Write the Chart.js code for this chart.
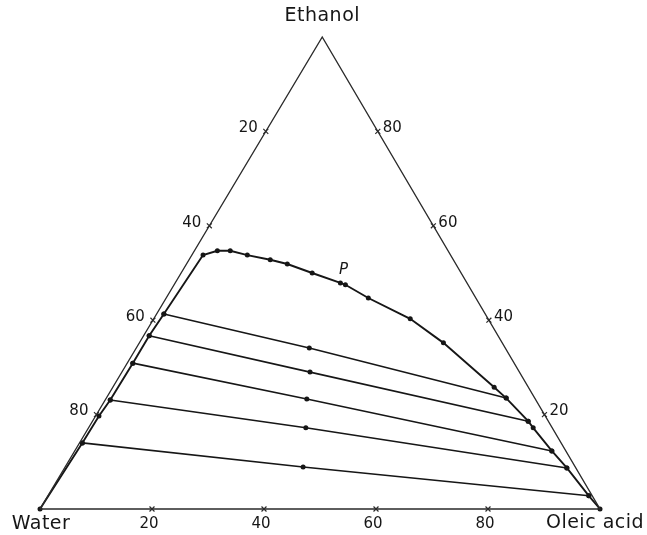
<!DOCTYPE html>
<html>
<head>
<meta charset="utf-8">
<script src="https://cdn.jsdelivr.net/npm/chart.js@4"></script>
<style>
  body { margin: 0; background: #fff; }
  canvas { display: block; }
</style>
</head>
<body>
<canvas id="ternary" width="647" height="535"></canvas>
<script>
// ternary data, all in wt%: ethanol (top), oleic acid (right), water = rest
const binodalEthanol = [0, 14.0, 19.7, 23.1, 30.9, 36.7, 41.3, 53.8, 54.7, 54.7, 53.8, 52.8, 51.9, 50.0, 47.9, 47.5, 44.7, 40.3, 35.2, 25.8, 23.5, 18.6, 17.2, 12.3, 8.7, 2.8, 0];
const binodalOleic   = [0, 0.5, 0.6, 0.9, 1.0, 1.0, 1.3, 2.0, 4.1, 6.4, 9.9, 14.5, 18.0, 23.4, 29.5, 30.6, 36.1, 45.8, 54.3, 68.1, 71.4, 77.8, 79.4, 85.2, 89.7, 96.6, 100];

// tie lines: water-rich end, feed point, oil-rich end
const tieEthanol = [
  [41.3, 34.1, 23.5],
  [36.7, 29.0, 18.6],
  [30.9, 23.3, 12.3],
  [23.1, 17.2, 8.7],
  [14.0, 8.9, 2.8]
];
const tieOleic = [
  [1.3, 30.9, 71.4],
  [1.0, 33.6, 77.8],
  [1.0, 35.9, 85.2],
  [0.9, 38.8, 89.7],
  [0.5, 42.5, 96.6]
];

const tickValues = [20, 40, 60, 80];
const vertexNames = ["Water", "Oleic acid", "Ethanol"];
const plaitPoint = { ethanol: 47.5, oleic: 30.6, label: "P" };

// apex sits slightly right of centre in the original drawing
const SKEW = 0.504;
const toXY = (e, o) => ({ x: o + SKEW * e, y: e });

const triangle = [toXY(0, 0), toXY(0, 100), toXY(100, 0), toXY(0, 0)];
const binodal = binodalEthanol.map((e, i) => toXY(e, binodalOleic[i]));

const ticks = [];
tickValues.forEach(v => {
  ticks.push(toXY(100 - v, 0));   // left edge (water)
  ticks.push(toXY(v, 100 - v));   // right edge (ethanol)
  ticks.push(toXY(0, v));         // bottom edge (oleic acid)
});

const ink = "#161616";
const fontFamily = "'DejaVu Sans', Arial, sans-serif";

const datasets = [
  {
    data: triangle, showLine: true, borderColor: "#2a2a2a", borderWidth: 1.4,
    pointRadius: 0, clip: false
  },
  {
    data: binodal, showLine: true, borderColor: ink, borderWidth: 1.9,
    pointRadius: 2.5, pointBackgroundColor: ink, pointBorderWidth: 0, clip: false
  },
  {
    data: ticks, showLine: false, pointStyle: "crossRot", pointRadius: 3.5,
    borderColor: "#2a2a2a", borderWidth: 1.2, clip: false
  }
];

tieEthanol.forEach((row, i) => {
  datasets.push({
    data: row.map((e, j) => toXY(e, tieOleic[i][j])),
    showLine: true, borderColor: ink, borderWidth: 1.6,
    pointRadius: 2.5, pointBackgroundColor: ink, pointBorderWidth: 0, clip: false
  });
});

const labelPlugin = {
  id: "ternaryLabels",
  afterDatasetsDraw(chart) {
    const { ctx, scales: { x, y } } = chart;
    const px = (e, o) => {
      const p = toXY(e, o);
      return [x.getPixelForValue(p.x), y.getPixelForValue(p.y)];
    };
    ctx.save();
    ctx.fillStyle = ink;
    ctx.textBaseline = "middle";

    ctx.font = "15px " + fontFamily;
    tickValues.forEach(v => {
      let [lx, ly] = px(100 - v, 0);
      ctx.textAlign = "right";
      ctx.fillText(String(v), lx - 8, ly - 3);

      [lx, ly] = px(v, 100 - v);
      ctx.textAlign = "left";
      ctx.fillText(String(v), lx + 5, ly - 3);

      [lx, ly] = px(0, v);
      ctx.textAlign = "center";
      ctx.fillText(String(v), lx - 3, ly + 15);
    });

    ctx.font = "19px " + fontFamily;
    ctx.letterSpacing = "0.5px";
    ctx.textAlign = "center";
    let [vx, vy] = px(0, 0);
    ctx.fillText(vertexNames[0], vx + 1, vy + 15);
    [vx, vy] = px(0, 100);
    ctx.fillText(vertexNames[1], vx - 5, vy + 14);
    [vx, vy] = px(100, 0);
    ctx.fillText(vertexNames[2], vx, vy - 21);

    ctx.letterSpacing = "0px";
    ctx.font = "italic 15px " + fontFamily;
    [vx, vy] = px(plaitPoint.ethanol, plaitPoint.oleic);
    ctx.fillText(plaitPoint.label, vx - 2, vy - 15);
    ctx.restore();
  }
};

new Chart(document.getElementById("ternary"), {
  type: "scatter",
  data: { datasets },
  options: {
    responsive: false,
    animation: false,
    layout: { padding: { left: 40, right: 47, top: 37, bottom: 26 } },
    scales: {
      x: { type: "linear", min: 0, max: 100, display: false },
      y: { type: "linear", min: 0, max: 100, display: false }
    },
    plugins: { legend: { display: false }, tooltip: { enabled: false } }
  },
  plugins: [labelPlugin]
});
</script>
</body>
</html>
